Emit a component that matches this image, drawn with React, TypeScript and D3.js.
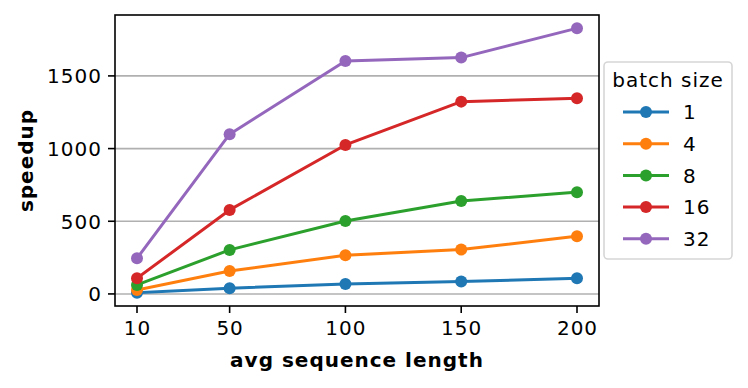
import * as d3 from "d3";

const seqLengths = [10, 50, 100, 150, 200];
const batchSizes = ["1", "4", "8", "16", "32"];
const speedup1 = [8, 39, 69, 85, 108];
const speedup4 = [27, 158, 266, 305, 397];
const speedup8 = [62, 303, 502, 640, 700];
const speedup16 = [108, 578, 1025, 1323, 1346];
const speedup32 = [245, 1099, 1603, 1626, 1828];
const yTicks = [0, 500, 1000, 1500];

const colors = ["#1f77b4", "#ff7f0e", "#2ca02c", "#d62728", "#9467bd"];
const FONT = "DejaVu Sans, sans-serif";

export default function App() {
  const width = 748;
  const height = 388;
  const plot = { left: 115, right: 599, top: 15, bottom: 306 };

  const series = [speedup1, speedup4, speedup8, speedup16, speedup32];

  // matplotlib-style 5% margins around the data
  const xMin = d3.min(seqLengths)!;
  const xMax = d3.max(seqLengths)!;
  const xPad = (xMax - xMin) * 0.05;
  const x = d3
    .scaleLinear()
    .domain([xMin - xPad, xMax + xPad])
    .range([plot.left, plot.right]);

  const yMin = d3.min(series.flat())!;
  const yMax = d3.max(series.flat())!;
  const yPad = (yMax - yMin) * 0.05;
  const y = d3
    .scaleLinear()
    .domain([yMin - yPad, yMax + yPad])
    .range([plot.bottom, plot.top]);

  const line = d3
    .line<number>()
    .x((_, i) => x(seqLengths[i]))
    .y((d) => y(d));

  const legend = { x: 604, y: 62, w: 128, h: 197 };
  const entryY = (i: number) => 112 + i * 31.7;

  return (
    <svg
      width={width}
      height={height}
      style={{ position: "absolute", left: 0, top: 0, background: "#fff", letterSpacing: "1px" }}
      fontFamily={FONT}
    >
      {/* grid */}
      {yTicks.map((t) => (
        <line
          key={"g" + t}
          x1={plot.left}
          x2={plot.right}
          y1={y(t)}
          y2={y(t)}
          stroke="#b0b0b0"
          strokeWidth={1.6}
        />
      ))}

      {/* series */}
      {series.map((s, k) => (
        <g key={"s" + k}>
          <path d={line(s)!} fill="none" stroke={colors[k]} strokeWidth={3} strokeLinejoin="round" strokeLinecap="square" />
          {s.map((v, i) => (
            <circle key={i} cx={x(seqLengths[i])} cy={y(v)} r={6} fill={colors[k]} />
          ))}
        </g>
      ))}

      {/* frame */}
      <rect
        x={plot.left}
        y={plot.top}
        width={plot.right - plot.left}
        height={plot.bottom - plot.top}
        fill="none"
        stroke="#000"
        strokeWidth={1.6}
      />

      {/* y axis */}
      {yTicks.map((t) => (
        <g key={"y" + t}>
          <line x1={plot.left - 7} x2={plot.left} y1={y(t)} y2={y(t)} stroke="#000" strokeWidth={1.6} />
          <text x={plot.left - 13} y={y(t) + 7.3} textAnchor="end" fontSize={20}>
            {t}
          </text>
        </g>
      ))}

      {/* x axis */}
      {seqLengths.map((t) => (
        <g key={"x" + t}>
          <line x1={x(t)} x2={x(t)} y1={plot.bottom} y2={plot.bottom + 7} stroke="#000" strokeWidth={1.6} />
          <text x={x(t) + 0.5} y={plot.bottom + 29} textAnchor="middle" fontSize={20}>
            {t}
          </text>
        </g>
      ))}

      <text
        x={(plot.left + plot.right) / 2}
        y={366.5}
        textAnchor="middle"
        fontSize={20}
        fontWeight="bold"
      >
        avg sequence length
      </text>
      <text
        transform={`translate(33,${(plot.top + plot.bottom) / 2}) rotate(-90)`}
        textAnchor="middle"
        fontSize={20}
        fontWeight="bold"
      >
        speedup
      </text>

      {/* legend */}
      <rect
        x={legend.x}
        y={legend.y}
        width={legend.w}
        height={legend.h}
        rx={4}
        fill="#fff"
        fillOpacity={0.8}
        stroke="#d6d6d6"
        strokeWidth={1.6}
      />
      <text x={legend.x + legend.w / 2} y={87} textAnchor="middle" fontSize={20}>
        batch size
      </text>
      {batchSizes.map((b, i) => (
        <g key={"l" + b}>
          <line x1={623} x2={669} y1={entryY(i)} y2={entryY(i)} stroke={colors[i]} strokeWidth={3} />
          <circle cx={646} cy={entryY(i)} r={6} fill={colors[i]} />
          <text x={683} y={entryY(i) + 7.3} fontSize={20}>
            {b}
          </text>
        </g>
      ))}
    </svg>
  );
}
